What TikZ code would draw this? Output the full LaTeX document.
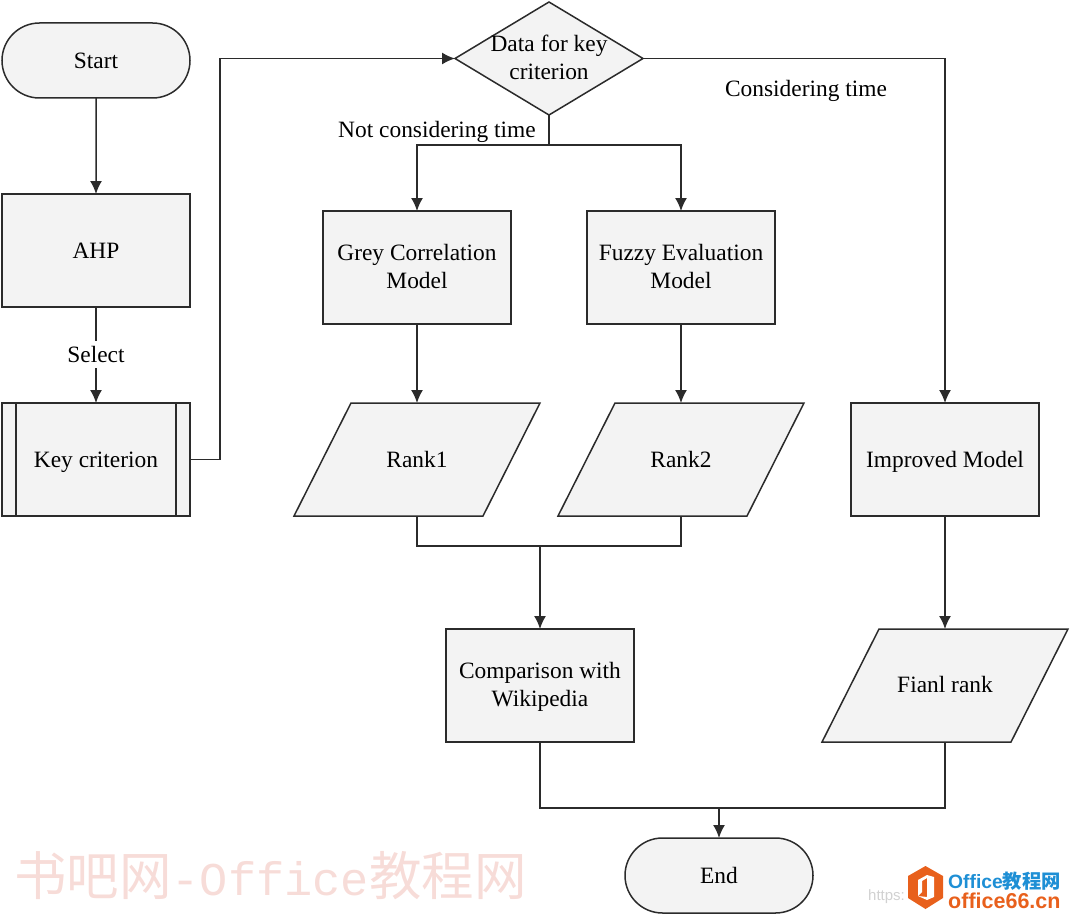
\documentclass[tikz,border=0pt]{standalone}
\usepackage{fontspec}
\setmainfont{Liberation Serif}
\newfontfamily\cjkwm{Noto Sans CJK SC}
\newfontfamily\monowm{Liberation Mono}
\newfontfamily\sanswm{Liberation Sans}
\usetikzlibrary{shapes.geometric,shapes.misc,arrows.meta}
\definecolor{ln}{HTML}{2B2B2B}
\definecolor{bx}{HTML}{F3F3F3}
\definecolor{wmpink}{HTML}{F7DCD8}
\definecolor{logoor}{HTML}{E8601C}
\definecolor{logobl}{HTML}{1E8FD5}
\tikzset{
  x=1pt,y=-1pt,
  base/.style={draw=ln,fill=bx,line width=1.5pt,inner sep=0pt,outer sep=0pt,align=center,
    font=\fontsize{23.4}{28}\selectfont,text=black},
  oneline/.style={text height=15.5pt,text depth=0pt},
  procbox/.style={base,rectangle,minimum width=188pt,minimum height=113pt},
  termbox/.style={base,rounded rectangle,minimum width=188pt,minimum height=75pt},
  decbox/.style={base,diamond,minimum width=188pt,minimum height=113pt,aspect=1.664},
  datatext/.style={rectangle,inner sep=0pt,outer sep=0pt,align=center,
    font=\fontsize{23.4}{28}\selectfont,text=black,minimum width=246pt,minimum height=113pt},
  datafill/.style={draw=ln,fill=bx,line width=1.5pt,line join=miter},
  txtlabel/.style={inner sep=0pt,align=center,font=\fontsize{23.4}{28}\selectfont,text=black},
  conn/.style={draw=ln,line width=1.5pt,-{Latex[length=13pt,width=12pt]}},
  plain/.style={draw=ln,line width=1.5pt},
}
% a parallelogram: outline first, then a named node that carries the text and the anchors
\newcommand{\dataslant}[4][]{%
  \path[datafill] (#2,#3) ++(-66,-56.5) -- ++(189,0) -- ++(-57,113) -- ++(-189,0) -- cycle;
}
\begin{document}
\begin{tikzpicture}
\useasboundingbox (0,0) rectangle (1070,915);
% nodes
\node[termbox,oneline] (start) at (96,60.5) {Start};
\node[procbox,oneline] (ahp) at (96,250.5) {AHP};
\node[procbox,oneline] (key) at (96,459.5) {Key criterion};
\draw[plain] (16,403) -- (16,516) (176,403) -- (176,516);
\node[decbox] (dia) at (549,58.5) {};
\node[txtlabel] (diat) at (549,57) {Data for key\\criterion};
\node[procbox,text depth=2pt] (grey) at (417,267.5) {Grey Correlation\\Model};
\node[procbox,text depth=2pt] (fuzzy) at (681,267.5) {Fuzzy Evaluation\\Model};
\dataslant{417}{459.5}{}
\node[datatext,oneline] (r1) at (417,459.5) {Rank1};
\dataslant{681}{459.5}{}
\node[datatext,oneline] (r2) at (681,459.5) {Rank2};
\node[procbox,oneline] (imp) at (945,459.5) {Improved Model};
\node[procbox,text depth=3pt] (cmp) at (540,685.5) {Comparison with\\Wikipedia};
\dataslant{945}{685.5}{}
\node[datatext,text height=14pt,text depth=0pt] (fin) at (945,685.5) {Fianl rank};
\node[termbox,oneline] (endn) at (719,875.5) {End};
% junctions
\coordinate (jleft) at (220,459.5);
\coordinate (jlefttop) at (220,58.5);
\coordinate (jtop) at (549,145);
\coordinate (jmid) at (540,546);
\coordinate (jend) at (719,808);
% connectors
\draw[conn] (start) -- (ahp);
\draw[conn] (ahp) -- (key);
\node[txtlabel,fill=white,inner ysep=5pt] (sel) at (96,354.5) {Select};
\draw[conn] (key.east) -- (jleft) -- (jlefttop) -- (dia.west);
\draw[conn] (dia.east) -| (imp.north);
\draw[plain] (dia.south) -- (jtop);
\draw[conn] (jtop) -| (grey.north);
\draw[conn] (jtop) -| (fuzzy.north);
\draw[conn] (grey) -- (r1.north);
\draw[conn] (fuzzy) -- (r2.north);
\draw[plain] (r1.south) |- (jmid);
\draw[plain] (r2.south) |- (jmid);
\draw[conn] (jmid) -- (cmp.north);
\draw[conn] (imp) -- (fin.north);
\draw[plain] (cmp.south) |- (jend);
\draw[plain] (fin.south) |- (jend);
\draw[conn] (jend) -- (endn.north);
% labels
\node[txtlabel] (lnot) at (437,132) {Not considering time};
\node[txtlabel] (lcons) at (806,91) {Considering time};
% watermark
\node[anchor=west,inner sep=0pt,text=wmpink] (wm) at (14,876)
  {{\cjkwm\fontsize{52.5}{52}\selectfont 书吧网}{\monowm\fontsize{47}{52}\selectfont -Office}{\cjkwm\fontsize{52.5}{52}\selectfont 教程网}};
\node[anchor=west,inner sep=0pt,text=black!18,font=\sanswm\fontsize{15}{15}\selectfont] (wmurl) at (868,897) {https:};
\fill[logoor] (925.5,866) -- (943,876) -- (943,898) -- (925.5,909) -- (908,898) -- (908,876) -- cycle;
\fill[white] (927,875) -- (934,877) -- (934,897) -- (927,900) -- (918,896) -- (927,897) -- cycle
  (918,896) -- (918,880) -- (927,875) -- (927,878) -- (922,881) -- (922,892) -- cycle;
\node[anchor=west,inner sep=0pt,text=logobl,font=\sanswm\bfseries\fontsize{19.3}{19}\selectfont] (wmo) at (948,881)
  {Office{\cjkwm\fontsize{19.3}{19}\selectfont\bfseries 教程网}};
\node[anchor=west,inner sep=0pt,text=logoor,font=\sanswm\bfseries\fontsize{21.5}{21}\selectfont] (wmc) at (948,901) {office66.cn};
\end{tikzpicture}
\end{document}
